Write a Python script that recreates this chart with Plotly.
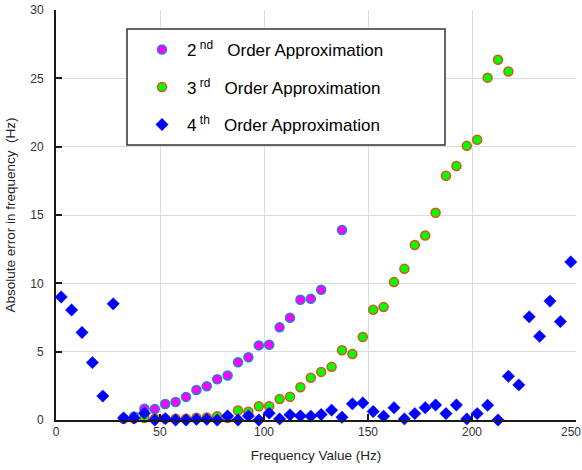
import plotly.graph_objects as go

# ---- data ----
freq_2nd = [32.5, 37.5, 42.5, 47.5, 52.5, 57.5, 62.5, 67.5, 72.5, 77.5,
            82.5, 87.5, 92.5, 97.5, 102.5, 107.5, 112.5, 117.5, 122.5, 127.5,
            137.5]
err_2nd = [0.1, 0.25, 0.82, 0.8, 1.17, 1.32, 1.69, 2.2, 2.47, 2.98,
           3.25, 4.22, 4.59, 5.46, 5.51, 6.78, 7.48, 8.8, 8.87, 9.53,
           13.9]

freq_3rd = [32.5, 37.5, 42.5, 47.5, 52.5, 57.5, 62.5, 67.5, 72.5, 77.5,
            82.5, 87.5, 92.5, 97.5, 102.5, 107.5, 112.5, 117.5, 122.5, 127.5,
            132.5, 137.5, 142.5, 147.5, 152.5, 157.5, 162.5, 167.5, 172.5, 177.5,
            182.5, 187.5, 192.5, 197.5, 202.5, 207.5, 212.5, 217.5]
err_3rd = [0.1, 0.1, 0.15, 0.1, 0.1, 0.1, 0.1, 0.16, 0.18, 0.28,
           0.15, 0.69, 0.6, 1.0, 1.0, 1.53, 1.7, 2.4, 3.09, 3.52,
           3.89, 5.1, 4.83, 6.07, 8.07, 8.26, 10.09, 11.06, 12.81, 13.5,
           15.17, 17.87, 18.58, 20.06, 20.5, 25.05, 26.36, 25.5]

freq_4th = [2.5, 7.5, 12.5, 17.5, 22.5, 27.5, 32.5, 37.5, 42.5, 47.5,
            52.5, 57.5, 62.5, 67.5, 72.5, 77.5, 82.5, 87.5, 92.5, 97.5,
            102.5, 107.5, 112.5, 117.5, 122.5, 127.5, 132.5, 137.5, 142.5, 147.5,
            152.5, 157.5, 162.5, 167.5, 172.5, 177.5, 182.5, 187.5, 192.5, 197.5,
            202.5, 207.5, 212.5, 217.5, 222.5, 227.5, 232.5, 237.5, 242.5, 247.5]
err_4th = [9.0, 8.05, 6.4, 4.2, 1.75, 8.5, 0.15, 0.15, 0.5, 0.0,
           0.1, 0.0, 0.0, 0.05, 0.05, 0.0, 0.3, 0.0, 0.3, 0.0,
           0.5, 0.08, 0.38, 0.3, 0.28, 0.4, 0.72, 0.2, 1.18, 1.25,
           0.62, 0.28, 0.9, 0.08, 0.47, 0.9, 1.1, 0.47, 1.1, 0.08,
           0.47, 1.08, 0.0, 3.2, 2.57, 7.55, 6.12, 8.7, 7.2, 11.57]

x_ticks = [0, 50, 100, 150, 200, 250]
x_ticktext = ["0", "50", "100", "150", "200", ""]
x_last_label = "250"
y_ticks = [0, 5, 10, 15, 20, 25, 30]

names = ["2\u2009<sup>nd</sup>\u00a0\u00a0 Order Approximation",
         "3\u2009<sup>rd</sup>\u00a0\u00a0 Order Approximation",
         "4\u2009<sup>th</sup>\u00a0\u00a0 Order Approximation"]

FONT = "Arial, Liberation Sans, sans-serif"

fig = go.Figure()
fig.add_trace(go.Scatter(
    x=freq_2nd, y=err_2nd, mode="markers", name=names[0], legendgroup="a",
    cliponaxis=False,
    marker=dict(symbol="circle", size=9, color="#ff00ff",
                line=dict(color="#1f86cc", width=1.5))))
fig.add_trace(go.Scatter(
    x=freq_3rd, y=err_3rd, mode="markers", name=names[1], legendgroup="b",
    cliponaxis=False,
    marker=dict(symbol="circle", size=9, color="#00ff00",
                line=dict(color="#d95319", width=1.5))))
fig.add_trace(go.Scatter(
    x=freq_4th, y=err_4th, mode="markers", name=names[2], legendgroup="c",
    cliponaxis=False,
    marker=dict(symbol="diamond", size=9.5, color="#0000ff",
                line=dict(color="#0000ff", width=0.5))))

W, H = 582, 470
ml, mr, mt, mb = 56, 6, 10, 50
pw, ph = W - ml - mr, H - mt - mb


def px_x(p):
    return (p - ml) / pw


def px_y(p):
    return (H - mb - p) / ph


fig.add_shape(type="rect", xref="paper", yref="paper",
              x0=px_x(127), x1=px_x(445), y0=px_y(145), y1=px_y(29),
              line=dict(color="#333333", width=1.5), fillcolor="white",
              layer="above")

# last x tick label, nudged left to stay inside the page (as in the reference)
fig.add_annotation(x=x_ticks[-1], xref="x", y=0, yref="paper",
                   text=x_last_label, showarrow=False,
                   xanchor="center", yanchor="top", xshift=-5, yshift=-3,
                   font=dict(family=FONT, size=12, color="#333333"))

fig.update_layout(
    width=W, height=H,
    margin=dict(l=ml, r=mr, t=mt, b=mb, autoexpand=False),
    paper_bgcolor="white", plot_bgcolor="white",
    font=dict(family=FONT, size=12, color="#333333"),
    showlegend=True,
    legend=dict(x=px_x(137), y=px_y(32), xanchor="left", yanchor="top",
                bgcolor="rgba(0,0,0,0)", borderwidth=0,
                itemwidth=40, tracegroupgap=12.4,
                font=dict(family=FONT, size=17, color="#000000")),
    xaxis=dict(range=[0, 250], tickvals=x_ticks, ticktext=x_ticktext,
               ticks="inside", ticklen=6,
               automargin=False,
               tickwidth=2, tickcolor="#1a1a1a", showline=True, linewidth=2,
               linecolor="#1a1a1a", showgrid=True, gridcolor="#dcdcdc",
               gridwidth=1, zeroline=False,
               tickfont=dict(size=12, color="#333333"),
               title=dict(text="Frequency Value (Hz)", standoff=12,
                          font=dict(size=13.5, color="#222222"))),
    yaxis=dict(range=[0, 30], tickvals=y_ticks, ticks="inside", ticklen=6,
               automargin=False,
               tickwidth=2, tickcolor="#1a1a1a", showline=True, linewidth=2,
               linecolor="#1a1a1a", showgrid=True, gridcolor="#dcdcdc",
               gridwidth=1, zeroline=False, ticklabelstandoff=8,
               tickfont=dict(size=12, color="#333333"),
               title=dict(text="Absolute error in frequency \u00a0(Hz)", standoff=12,
                          font=dict(size=13.5, color="#222222"))),
)

fig.write_html("out.html")
